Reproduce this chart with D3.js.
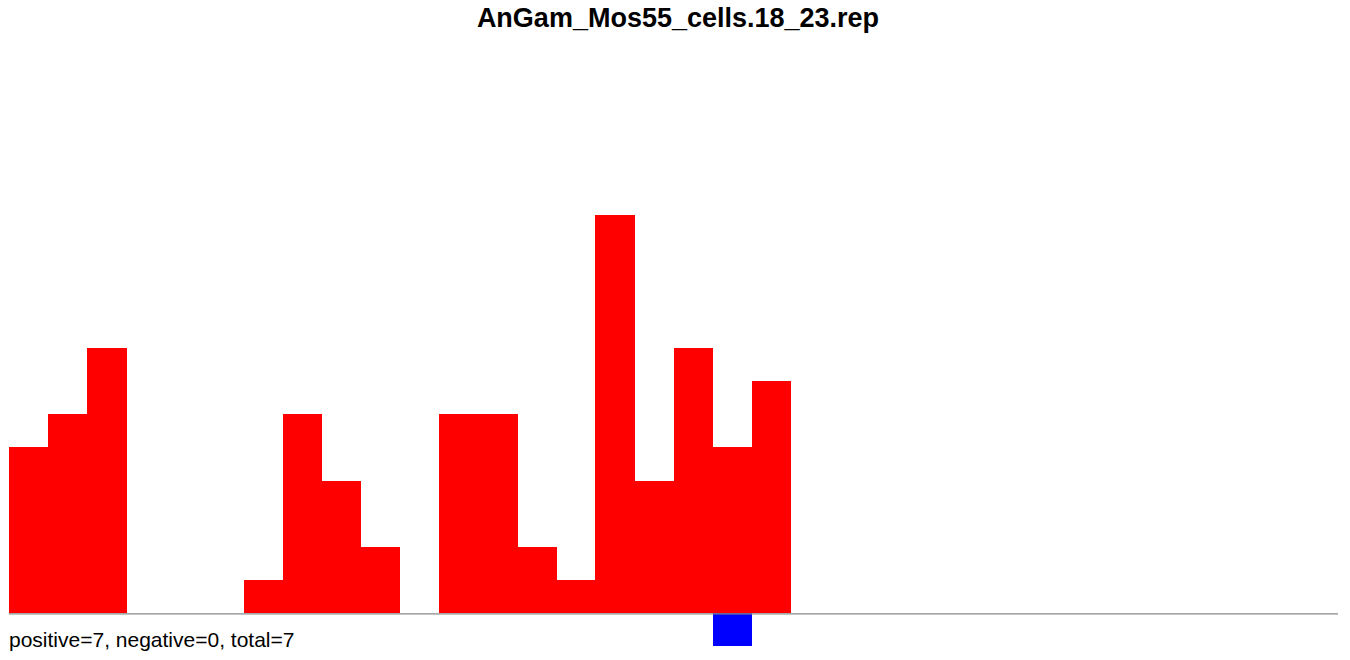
<!DOCTYPE html>
<html><head><meta charset="utf-8">
<script src="https://cdn.jsdelivr.net/npm/d3@7/dist/d3.min.js"></script>
<style>body{margin:0;background:#fff}svg{display:block}</style>
</head><body>
<script>
const title = "AnGam_Mos55_cells.18_23.rep";
const footer = "positive=7, negative=0, total=7";
const positions = d3.range(34);
const posValues = [5,6,8,0,0,0,1,6,4,2,0,6,6,2,1,12,4,8,5,7];
const negValues = [0,0,0,0,0,0,0,0,0,0,0,0,0,0,0,0,0,0,-1,0];

const W = 1350, H = 660;
const svg = d3.select("body").append("svg").attr("width", W).attr("height", H);

const x = d3.scaleBand().domain(positions).range([9, 1338]).padding(0);
const y = d3.scaleLinear().domain([0, 12]).range([613.3, 215]);

const posData = posValues.map((v, i) => ({i, v})).filter(d => d.v > 0);
const negData = negValues.map((v, i) => ({i, v})).filter(d => d.v < 0);

svg.append("g").attr("shape-rendering", "crispEdges")
  .selectAll("rect").data(posData).join("rect")
  .attr("x", d => x(d.i)).attr("width", x.bandwidth() + 0.5)
  .attr("y", d => y(d.v)).attr("height", d => y(0) - y(d.v))
  .attr("fill", "#ff0000");

svg.append("g").attr("shape-rendering", "crispEdges")
  .selectAll("rect").data(negData).join("rect")
  .attr("x", d => x(d.i)).attr("width", x.bandwidth())
  .attr("y", y(0)).attr("height", d => y(d.v) - y(0))
  .attr("fill", "#0000ff");

svg.append("line").attr("x1", 9).attr("x2", 1338)
  .attr("y1", 613.9).attr("y2", 613.9)
  .attr("stroke", "#888888").attr("stroke-width", 1.4);

svg.append("text").attr("x", 678).attr("y", 26.5)
  .attr("text-anchor", "middle")
  .style("font-family", "'Liberation Sans', Arial, sans-serif")
  .style("font-weight", "bold").style("font-size", "27px")
  .attr("fill", "#000").text(title);

svg.append("text").attr("x", 9).attr("y", 647)
  .style("font-family", "'Liberation Sans', Arial, sans-serif")
  .style("font-size", "21px")
  .attr("fill", "#000").text(footer);
</script>
</body></html>
